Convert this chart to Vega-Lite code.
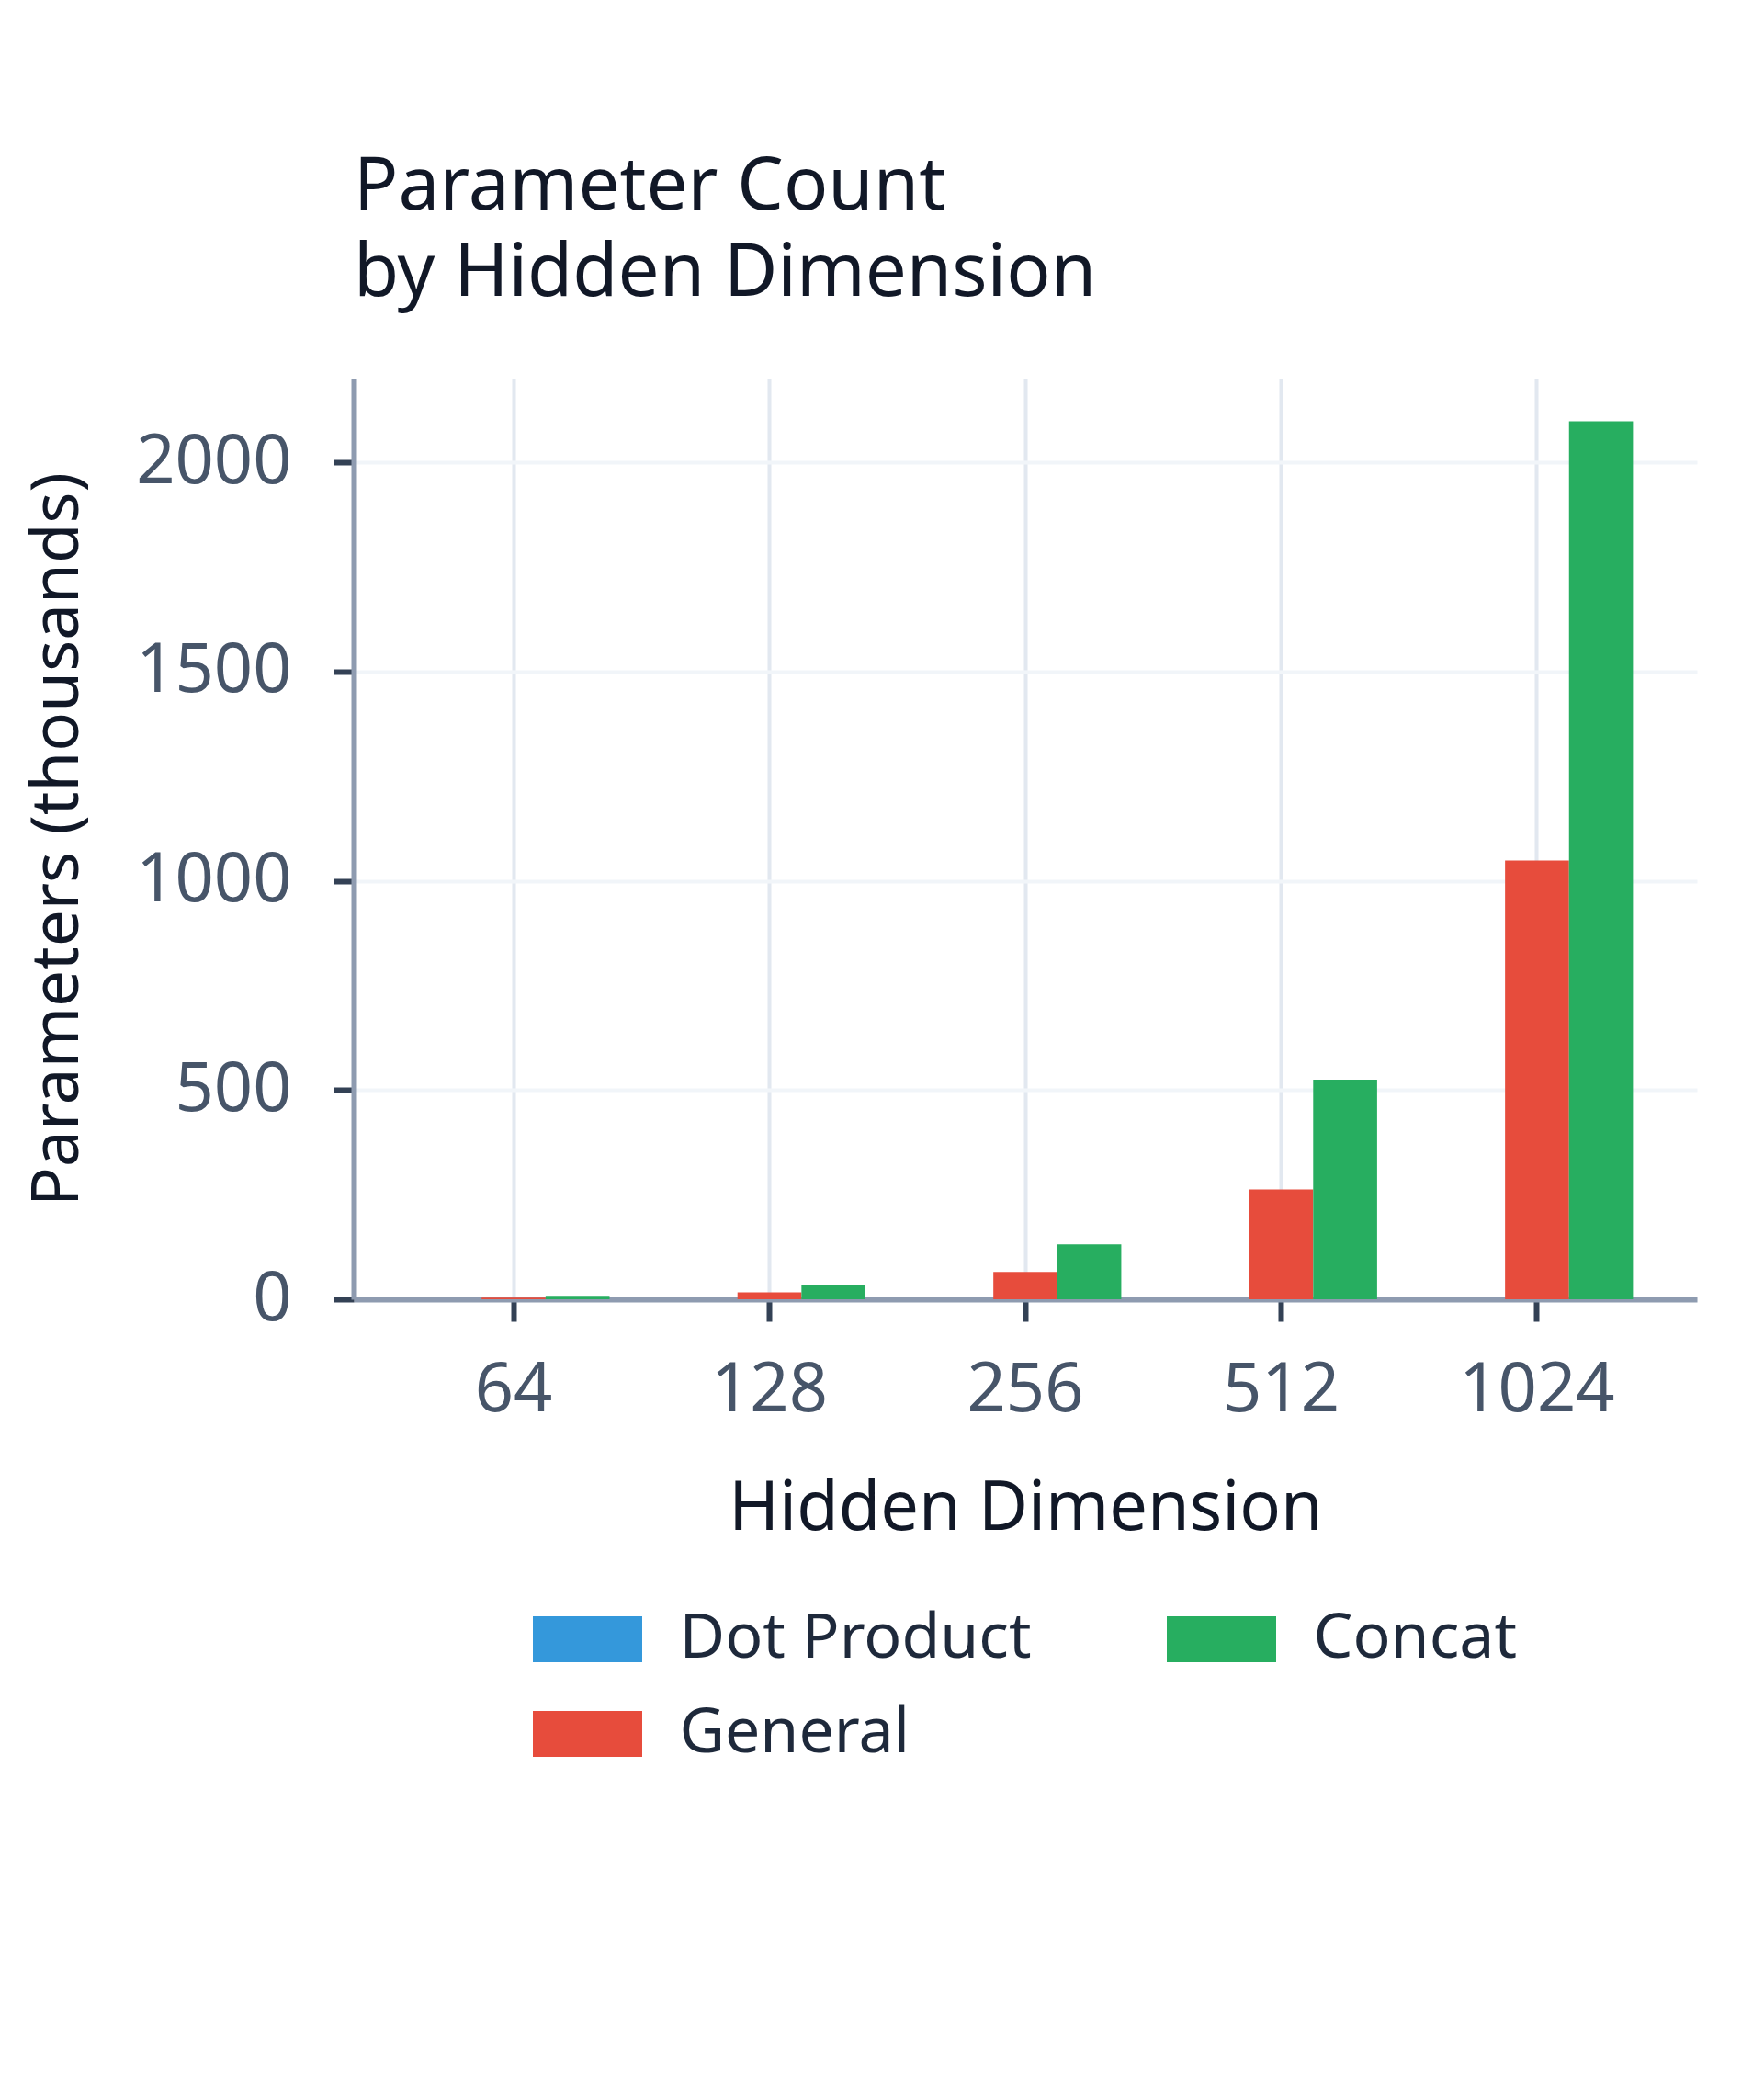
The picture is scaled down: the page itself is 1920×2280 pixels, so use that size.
{
  "$schema": "https://vega.github.io/schema/vega-lite/v6.json",
  "width": 1462,
  "height": 1002,
  "autosize": {"type": "none"},
  "padding": {"left": 385, "top": 412, "right": 73, "bottom": 866},
  "background": "white",
  "title": {
    "text": ["Parameter Count", "by Hidden Dimension"],
    "anchor": "start",
    "frame": "group",
    "fontSize": 80,
    "font": "Noto Sans",
    "fontWeight": "normal",
    "color": "#111827",
    "lineHeight": 94,
    "offset": 73
  },
  "data": {
    "values": [
      {"hidden": 64, "method": "Dot Product", "params": 0},
      {"hidden": 64, "method": "General", "params": 4.096},
      {"hidden": 64, "method": "Concat", "params": 8.256},
      {"hidden": 128, "method": "Dot Product", "params": 0},
      {"hidden": 128, "method": "General", "params": 16.384},
      {"hidden": 128, "method": "Concat", "params": 32.896},
      {"hidden": 256, "method": "Dot Product", "params": 0},
      {"hidden": 256, "method": "General", "params": 65.536},
      {"hidden": 256, "method": "Concat", "params": 131.328},
      {"hidden": 512, "method": "Dot Product", "params": 0},
      {"hidden": 512, "method": "General", "params": 262.144},
      {"hidden": 512, "method": "Concat", "params": 524.8},
      {"hidden": 1024, "method": "Dot Product", "params": 0},
      {"hidden": 1024, "method": "General", "params": 1048.576},
      {"hidden": 1024, "method": "Concat", "params": 2098.176}
    ]
  },
  "mark": {"type": "bar"},
  "encoding": {
    "x": {
      "field": "hidden",
      "type": "ordinal",
      "title": "Hidden Dimension",
      "scale": {"paddingInner": 0.25, "paddingOuter": 0.25},
      "axis": {
        "labelAngle": 0,
        "labelFont": "Noto Sans",
        "labelFontSize": 74,
        "labelColor": "#475569",
        "labelPadding": 39,
        "titleFont": "Noto Sans",
        "titleFontSize": 74,
        "titleFontWeight": "normal",
        "titleColor": "#111827",
        "titlePadding": 56,
        "tickSize": 24,
        "tickWidth": 6,
        "tickColor": "#334155",
        "domainColor": "#8e9bb0",
        "domainWidth": 6,
        "grid": true,
        "gridColor": "#e2e8f0",
        "gridWidth": 4
      }
    },
    "xOffset": {
      "field": "method",
      "type": "nominal",
      "sort": ["Dot Product", "General", "Concat"],
      "scale": {"paddingInner": 0, "paddingOuter": 0}
    },
    "y": {
      "field": "params",
      "type": "quantitative",
      "title": "Parameters (thousands)",
      "scale": {"domain": [0, 2200], "nice": false},
      "axis": {
        "values": [0, 500, 1000, 1500, 2000],
        "format": "d",
        "labelFont": "Noto Sans",
        "labelFontSize": 74,
        "labelColor": "#475569",
        "labelPadding": 46,
        "titleFont": "Noto Sans",
        "titleFontSize": 71,
        "titleFontWeight": "normal",
        "titleColor": "#111827",
        "titlePadding": 86,
        "tickSize": 22,
        "tickWidth": 6,
        "tickColor": "#334155",
        "domainColor": "#8e9bb0",
        "domainWidth": 6,
        "grid": true,
        "gridColor": "#f1f5f9",
        "gridWidth": 4
      }
    },
    "color": {
      "field": "method",
      "type": "nominal",
      "scale": {
        "domain": ["Dot Product", "Concat", "General"],
        "range": ["#3498db", "#27ae60", "#e74c3c"]
      },
      "legend": {
        "orient": "none",
        "legendX": 220.5,
        "legendY": 1338,
        "direction": "horizontal",
        "columns": 2,
        "title": null,
        "symbolType": "M-2.38,-1H2.38V1H-2.38Z",
        "symbolSize": 2500,
        "symbolStrokeWidth": 0,
        "symbolOpacity": 1,
        "labelFont": "Noto Sans",
        "labelFontSize": 68,
        "labelColor": "#1e293b",
        "labelOffset": 66,
        "labelLimit": 1000,
        "rowPadding": 35,
        "columnPadding": 146
      }
    }
  },
  "config": {
    "view": {"stroke": null}
  }
}
